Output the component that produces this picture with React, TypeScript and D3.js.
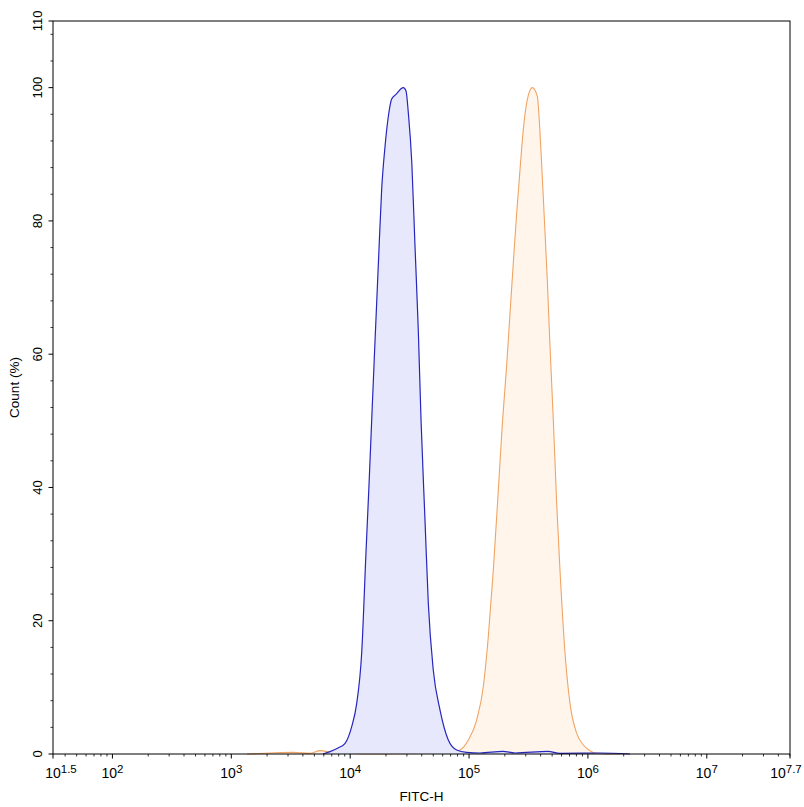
import React from "react";
import * as d3 from "d3";

// FITC-H intensity (linear units) and percent of max count
const blueFitc = [5900, 6770, 7900, 9060, 10300, 11350, 12500, 13580, 14380, 15170, 16110, 17280, 18400, 19650, 20950, 22350, 24300, 28000, 29500, 30850, 33000, 35100, 37400, 39450, 42600, 45400, 50000, 57000, 66900, 78700, 95500, 123600, 193000, 243800, 461000, 582000, 1265000, 2260000];
const blueCount = [0, 0.35, 0.9, 1.6, 4.1, 7.6, 15.2, 30.2, 40.1, 50.1, 61.2, 73.7, 84.7, 91.2, 95.7, 98.3, 99, 100, 99.5, 96.2, 88.7, 76.2, 63.7, 50.1, 35.1, 22.7, 12.6, 6.6, 2.1, 0.6, 0.25, 0.15, 0.4, 0.15, 0.4, 0.1, 0.15, 0];

const orangeFitc = [1355, 2120, 3300, 4590, 5570, 7450, 9970, 14700, 38600, 57000, 73300, 83900, 98600, 115900, 131800, 145200, 160000, 176300, 191000, 207400, 221200, 235700, 251700, 268400, 286000, 309000, 340600, 375000, 401000, 427600, 455000, 479700, 511600, 546000, 582000, 641500, 706500, 805000, 915000, 1076000, 1186000, 1860000];
const orangeCount = [0, 0.15, 0.25, 0.1, 0.5, 0.15, 0.1, 0, 0.1, 0.1, 0.35, 0.6, 2.1, 5.1, 10.1, 17.6, 27.6, 39.6, 49.8, 58.4, 66.2, 73.7, 81.2, 87.7, 93.7, 98.2, 100, 98.7, 91.2, 81.2, 71.2, 61.2, 50.1, 37.6, 27.6, 15.2, 7.6, 3.1, 1.35, 0.35, 0.1, 0];

const xTickExps = [1.5, 2, 3, 4, 5, 6, 7, 7.7];
const yMajorTicks = [0, 20, 40, 60, 80, 100, 110];
const yMinorTicks = d3.range(4, 110, 4).filter(v => v % 20 !== 0);

const W = 804;
const H = 807;
const plot = { left: 53, right: 790, top: 21, bottom: 754 };
const font = "'Liberation Sans', Arial, sans-serif";

export default function App() {
  const x = d3.scaleLog()
    .domain([Math.pow(10, 1.5), Math.pow(10, 7.7)])
    .range([plot.left, plot.right]);
  const y = d3.scaleLinear().domain([0, 110]).range([plot.bottom, plot.top]);

  const blue = blueFitc.map((v, i) => [v, blueCount[i]] as [number, number]);
  const orange = orangeFitc.map((v, i) => [v, orangeCount[i]] as [number, number]);

  const area = d3.area<[number, number]>()
    .x(d => x(d[0]))
    .y0(y(0))
    .y1(d => y(d[1]))
    .curve(d3.curveMonotoneX);
  const line = d3.line<[number, number]>()
    .x(d => x(d[0]))
    .y(d => y(d[1]))
    .curve(d3.curveMonotoneX);

  // log minor ticks 2..9 per decade
  const minorX: number[] = [];
  for (let d = 1; d <= 7; d++) {
    for (let k = 2; k <= 9; k++) {
      const v = k * Math.pow(10, d);
      if (v > x.domain()[0] && v < x.domain()[1]) minorX.push(v);
    }
  }

  return (
    <svg width={W} height={H} style={{ position: "absolute", left: 0, top: 0, background: "#fff" }}
      fontFamily={font}>
      <rect x={0} y={0} width={W} height={H} fill="#fff" />

      {/* histograms */}
      <path d={area(orange) || ""} fill="#fff5eb" />
      <path d={line(orange) || ""} fill="none" stroke="#f0a464" strokeWidth={1.1} />
      <path d={area(blue) || ""} fill="#e8e8fc" />
      <path d={line(blue) || ""} fill="none" stroke="#2626bd" strokeWidth={1.2} />

      {/* frame */}
      <rect x={plot.left} y={plot.top} width={plot.right - plot.left} height={plot.bottom - plot.top}
        fill="none" stroke="#000" strokeWidth={1} />

      {/* x axis ticks */}
      {minorX.map(v => (
        <line key={"mx" + v} x1={x(v)} x2={x(v)} y1={plot.bottom} y2={plot.bottom + 2.5} stroke="#000" strokeWidth={0.8} />
      ))}
      {xTickExps.map((e, i) => {
        const px = x(Math.pow(10, e));
        const edge = i === 0 ? 8 : i === xTickExps.length - 1 ? -4 : 0;
        return (
          <g key={"x" + e}>
            <line x1={px} x2={px} y1={plot.bottom} y2={plot.bottom + 4.5} stroke="#000" />
            <text x={px + edge} y={778} textAnchor="middle" fontSize={14} fill="#000">
              <tspan>10</tspan>
              <tspan dy={-5.5} fontSize={11.5}>{String(e)}</tspan>
            </text>
          </g>
        );
      })}

      {/* y axis ticks */}
      {yMinorTicks.map(v => (
        <line key={"my" + v} x1={plot.left - 2.5} x2={plot.left} y1={y(v)} y2={y(v)} stroke="#000" strokeWidth={0.8} />
      ))}
      {yMajorTicks.map(v => (
        <g key={"y" + v}>
          <line x1={plot.left - 4.5} x2={plot.left} y1={y(v)} y2={y(v)} stroke="#000" />
          <text transform={`translate(42,${y(v)}) rotate(-90)`} textAnchor="middle" fontSize={13} fill="#000">
            {v}
          </text>
        </g>
      ))}

      {/* axis titles */}
      <text x={(plot.left + plot.right) / 2} y={801} textAnchor="middle" fontSize={13.5} fill="#000">FITC-H</text>
      <text transform={`translate(19,${(plot.top + plot.bottom) / 2}) rotate(-90)`} textAnchor="middle"
        fontSize={13.5} fill="#000">Count (%)</text>
    </svg>
  );
}
